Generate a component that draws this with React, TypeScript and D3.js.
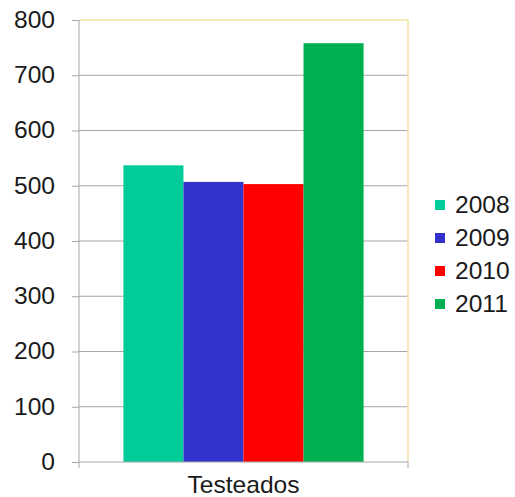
import { useEffect, useRef } from 'react';
import * as d3 from 'd3';

const categories = ['Testeados'];
const years = ['2008', '2009', '2010', '2011'];
const values = [537, 507, 503, 758];
const colors = ['#00cc99', '#3333cc', '#ff0000', '#00b050'];
const yTicks = [0, 100, 200, 300, 400, 500, 600, 700, 800];

export default function App() {
  const svgRef = useRef<SVGSVGElement>(null);

  useEffect(() => {
    if (!svgRef.current) return;
    const svg = d3.select(svgRef.current);
    svg.selectAll('*').remove();

    const W = 515;
    const H = 497;
    const margin = { top: 20, right: 107, bottom: 35, left: 79 };
    const width = W - margin.left - margin.right;
    const height = H - margin.top - margin.bottom;
    const font = 'Arial, "Liberation Sans", sans-serif';
    const fs = 23;
    const sx = 1.07; // text in the picture is a bit wide

    svg.attr('width', W).attr('height', H);
    const g = svg.append('g').attr('transform', `translate(${margin.left},${margin.top})`);

    const y = d3.scaleLinear().domain([0, 800]).range([height, 0]);
    const x0 = d3.scaleBand().domain(categories).range([0, width]).paddingInner(0.27).paddingOuter(0.135);
    const x1 = d3.scaleBand().domain(years).range([0, x0.bandwidth()]);

    // gridlines
    g.selectAll('.grid')
      .data(yTicks.filter(t => t > 0 && t < 800))
      .enter().append('line')
      .attr('x1', 0).attr('x2', width)
      .attr('y1', d => y(d)).attr('y2', d => y(d))
      .attr('stroke', '#a6a6a6').attr('stroke-width', 1);

    // plot border (top/right)
    g.append('path')
      .attr('d', `M0,${y(800)}H${width}V${height}`)
      .attr('fill', 'none').attr('stroke', '#f2e2a6').attr('stroke-width', 1.5);

    // bars
    categories.forEach(cat => {
      g.selectAll(`.bar-${cat}`)
        .data(values)
        .enter().append('rect')
        .attr('x', (_, i) => (x0(cat) ?? 0) + (x1(years[i]) ?? 0))
        .attr('width', x1.bandwidth())
        .attr('y', d => y(d))
        .attr('height', d => height - y(d))
        .attr('fill', (_, i) => colors[i]);
    });

    // y axis
    const yAxis = g.append('g')
      .call(d3.axisLeft(y).tickValues(yTicks).tickSize(7) as any);
    yAxis.select('.domain').attr('stroke', '#a6a6a6').attr('d', `M0,${height + 6}V${y(800)}`);
    yAxis.selectAll('.tick line').attr('stroke', '#a6a6a6');
    yAxis.selectAll('.tick text')
      .attr('x', -24 / sx)
      .attr('transform', `scale(${sx},1)`)
      .attr('font-family', font).attr('font-size', fs).attr('fill', '#1a1a1a');

    // x axis
    const xAxis = g.append('g')
      .attr('transform', `translate(0,${height})`)
      .call(d3.axisBottom(x0).tickSize(0).tickPadding(15) as any);
    xAxis.select('.domain').attr('stroke', '#a6a6a6').attr('d', `M0,0H${width}`);
    xAxis.selectAll('.tick text')
      .attr('transform', `scale(${sx},1)`)
      .attr('font-family', font).attr('font-size', fs).attr('fill', '#1a1a1a');
    g.append('line')
      .attr('x1', width).attr('x2', width).attr('y1', height).attr('y2', height + 6)
      .attr('stroke', '#a6a6a6');

    // legend
    const legend = svg.append('g').attr('transform', 'translate(435,205)');
    years.forEach((yr, i) => {
      const row = legend.append('g').attr('transform', `translate(0,${i * 33})`);
      row.append('rect').attr('x', 0).attr('y', -5).attr('width', 10).attr('height', 10).attr('fill', colors[i]);
      row.append('text')
        .attr('x', 20 / sx).attr('y', 0).attr('dy', '0.36em')
        .attr('transform', `scale(${sx},1)`)
        .attr('font-family', font).attr('font-size', fs).attr('fill', '#1a1a1a')
        .text(yr);
    });
  }, []);

  return <svg ref={svgRef} style={{ position: 'absolute', left: 0, top: 0, background: '#fff' }}></svg>;
}
